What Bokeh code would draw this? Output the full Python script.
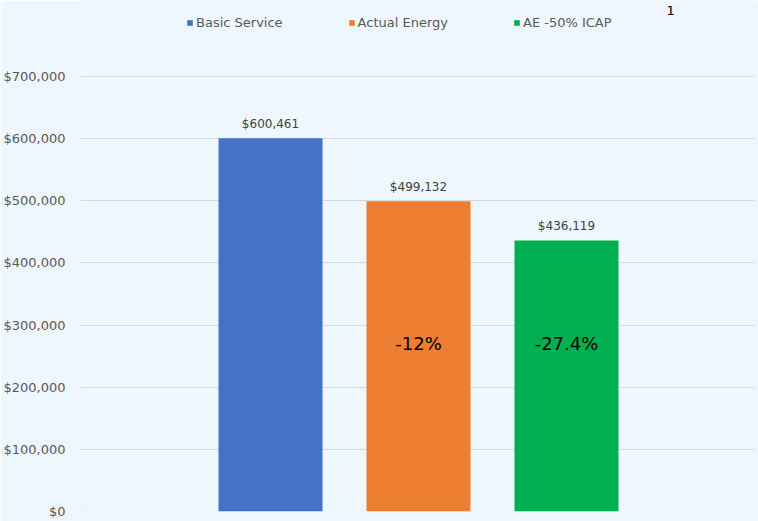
from bokeh.plotting import figure
from bokeh.models import (Range1d, ColumnDataSource, NumeralTickFormatter, Legend, LegendItem,
                          FixedTicker, Label, BoxAnnotation)
from bokeh.core.properties import value
from bokeh.embed import file_html
from bokeh.resources import INLINE

series = ["Basic Service", "Actual Energy", "AE -50% ICAP"]
costs = [600461, 499132, 436119]
value_labels = ["$600,461", "$499,132", "$436,119"]
pct_labels = ["", "-12%", "-27.4%"]
colors = ["#4472C4", "#ED7D31", "#00B050"]
y_ticks = [0, 100000, 200000, 300000, 400000, 500000, 600000, 700000]
note = "1"

FONT = "DejaVu Sans"
BG = "#EEF7FD"

y_max = max(y_ticks)
# frame extends above the plot area so the legend stays inside the frame
y_top = y_max * 511 / 435

idx = list(range(len(series)))
src = ColumnDataSource(dict(x=idx, top=costs, vlab=value_labels, plab=pct_labels,
                            py=[270000] * len(series)))

p = figure(width=758, height=521, output_backend="svg", toolbar_location=None,
           x_range=Range1d(-1.2838, 3.2703), y_range=Range1d(0, y_top),
           min_border_left=80, min_border_right=4, min_border_top=0, min_border_bottom=10)
p.background_fill_color = BG
p.border_fill_color = BG
p.outline_line_color = None

p.add_layout(BoxAnnotation(bottom=0, top=y_max, fill_alpha=0, line_color="#DCE2E8",
                           line_width=1, level="underlay"))

renderers = []
for i in idx:
    r = p.vbar(x=[idx[i]], top=[costs[i]], width=0.7027, bottom=0,
               fill_color=colors[i], line_color=None)
    renderers.append(r)

p.text(x="x", y="top", text="vlab", source=src, text_align="center",
       text_baseline="middle", y_offset=-14, text_font=value(FONT),
       text_font_size="12px", text_color="#404040")
p.text(x="x", y="py", text="plab", source=src, text_align="center",
       text_baseline="middle", text_font=value(FONT),
       text_font_size="18px", text_color="#000000")

p.xaxis.visible = False
p.xgrid.visible = False
p.ygrid.grid_line_color = "#D9D9D9"
p.ygrid.grid_line_width = 1
p.yaxis.ticker = FixedTicker(ticks=y_ticks)
p.yaxis.formatter = NumeralTickFormatter(format="$0,0")
p.yaxis.axis_line_color = None
p.yaxis.major_tick_line_color = None
p.yaxis.minor_tick_line_color = None
p.yaxis.major_label_standoff = 9
p.yaxis.major_label_text_font = FONT
p.yaxis.major_label_text_font_size = "13px"
p.yaxis.major_label_text_color = "#595959"

legend = Legend(items=[LegendItem(label=series[i], renderers=[renderers[i]]) for i in idx],
                orientation="horizontal", location=(106, 481),
                glyph_width=7, glyph_height=7, label_standoff=3, spacing=65,
                padding=0, margin=0, border_line_color=None, background_fill_alpha=0,
                label_text_font=FONT, label_text_font_size="13px",
                label_text_color="#595959", label_height=14)
p.add_layout(legend, "center")

p.add_layout(Label(x=586, y=501, x_units="screen", y_units="screen", text=note,
                   text_font=FONT, text_font_size="13px", text_color="#000000",
                   text_baseline="middle", text_align="left"))

open("out.html", "w").write(file_html(p, INLINE))
